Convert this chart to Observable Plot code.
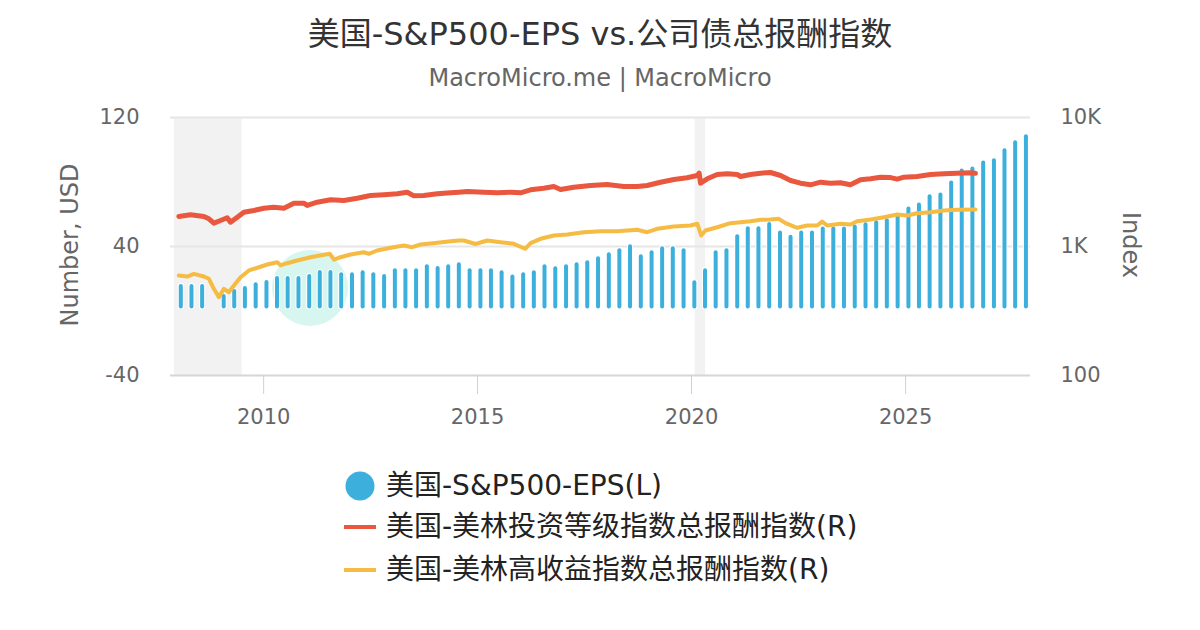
<!DOCTYPE html>
<html>
<head>
<meta charset="utf-8">
<script src="https://cdn.jsdelivr.net/npm/d3@7"></script>
<script src="https://cdn.jsdelivr.net/npm/@observablehq/plot@0.6"></script>
<style>
  html, body { margin: 0; padding: 0; background: #fff; }
  body { font-family: "DejaVu Sans", "Noto Sans CJK SC", sans-serif; }
  #wrap { position: relative; width: 1200px; height: 630px; overflow: hidden; background: #fff; }
  .abs { position: absolute; white-space: nowrap; }
  #title { top: 15px; left: 0; width: 1200px; text-align: center; font-size: 32px; line-height: 38px; color: #333; }
  #subtitle { top: 64px; left: 0; width: 1200px; text-align: center; font-size: 24px; line-height: 28px; color: #666; }
  #chart { position: absolute; left: 0; top: 100px; z-index: 2; }
  #wm { position: absolute; left: 272px; top: 250px; width: 76px; height: 76px; border-radius: 50%; background: #d6f6ef; z-index: 1; }
  .ytitle { font-size: 24px; color: #666; transform: translate(-50%, -50%) rotate(-90deg); }
  .ytitle.r { transform: translate(-50%, -50%) rotate(90deg); }
  .leg { font-size: 28px; color: #222; line-height: 32px; transform: translateY(-50%); }
  .sw-dot { width: 29px; height: 29px; border-radius: 50%; transform: translate(-50%, -50%); }
  .sw-line { width: 32px; height: 4px; transform: translateY(-50%); }
</style>
</head>
<body>
<div id="wrap">
  <div id="title" class="abs">美国-S&amp;P500-EPS vs.公司债总报酬指数</div>
  <div id="subtitle" class="abs">MacroMicro.me | MacroMicro</div>
  <div id="wm"></div>
  <div id="chart"></div>
  <div class="abs ytitle" style="left:70px;top:245px;">Number, USD</div>
  <div class="abs ytitle r" style="left:1131px;top:245px;">Index</div>
  <div id="legend"></div>
</div>
<script>
// ---------- DATA ----------
const epsQuarters = [
  "2008Q1","2008Q2","2008Q3","2008Q4","2009Q1","2009Q2","2009Q3","2009Q4",
  "2010Q1","2010Q2","2010Q3","2010Q4","2011Q1","2011Q2","2011Q3","2011Q4",
  "2012Q1","2012Q2","2012Q3","2012Q4","2013Q1","2013Q2","2013Q3","2013Q4",
  "2014Q1","2014Q2","2014Q3","2014Q4","2015Q1","2015Q2","2015Q3","2015Q4",
  "2016Q1","2016Q2","2016Q3","2016Q4","2017Q1","2017Q2","2017Q3","2017Q4",
  "2018Q1","2018Q2","2018Q3","2018Q4","2019Q1","2019Q2","2019Q3","2019Q4",
  "2020Q1","2020Q2","2020Q3","2020Q4","2021Q1","2021Q2","2021Q3","2021Q4",
  "2022Q1","2022Q2","2022Q3","2022Q4","2023Q1","2023Q2","2023Q3","2023Q4",
  "2024Q1","2024Q2","2024Q3","2024Q4","2025Q1","2025Q2","2025Q3","2025Q4",
  "2026Q1","2026Q2","2026Q3","2026Q4","2027Q1","2027Q2","2027Q3","2027Q4"
];
const epsValues = [
  16.4, 16.4, 16.4, -0.1, 10.2, 13.3, 15.2, 17.5,
  18.9, 21.4, 21.4, 21.4, 22.6, 25.1, 25.1, 23.7,
  23.7, 24.9, 23.7, 22.6, 26.2, 26.2, 26.2, 28.7,
  27.6, 28.7, 29.9, 26.2, 26.2, 26.2, 24.9, 22.4,
  23.7, 24.9, 28.7, 27.4, 28.7, 29.9, 31.1, 33.6,
  36.1, 38.6, 41.1, 34.9, 37.3, 39.8, 39.8, 38.6,
  18.7, 26.2, 37.3, 38.6, 47.3, 52.2, 52.2, 54.9,
  49.6, 47.0, 49.6, 49.6, 52.1, 52.1, 52.1, 53.3,
  54.7, 56.0, 57.2, 60.3, 64.5, 67.0, 72.1, 73.2,
  80.6, 88.0, 89.3, 93.0, 94.4, 100.6, 105.6, 109.3
];

const igDates = [
  "2008-01-08","2008-04-17","2008-08-09","2008-09-21","2008-11-02","2008-12-29",
  "2009-02-24","2009-03-24","2009-05-21","2009-07-16","2009-10-09","2010-01-03",
  "2010-03-29","2010-06-23","2010-09-16","2010-12-10","2011-01-08","2011-04-03",
  "2011-07-26","2011-11-16","2012-03-10","2012-07-01","2012-10-23","2013-02-15",
  "2013-05-11","2013-07-06","2013-09-29","2014-01-22","2014-05-16","2014-07-25",
  "2014-10-04","2015-02-24","2015-06-18","2015-10-09","2016-01-02","2016-03-28",
  "2016-07-19","2016-10-13","2016-12-09","2017-04-01","2017-08-22","2018-01-11",
  "2018-06-02","2018-09-24","2018-12-18","2019-04-11","2019-08-03","2019-11-24",
  "2020-02-19","2020-03-06","2020-03-18","2020-05-14","2020-08-07","2020-10-31",
  "2021-01-25","2021-02-22","2021-05-18","2021-08-12","2021-11-05","2022-01-30",
  "2022-04-25","2022-07-19","2022-10-12","2023-01-06","2023-04-01","2023-06-25",
  "2023-09-18","2023-12-13","2024-03-08","2024-06-01","2024-08-26","2024-10-22",
  "2024-12-17","2025-04-10","2025-08-02","2025-11-23","2026-03-17","2026-07-08",
  "2026-08-20"
];
const igValues = [
  1709, 1761, 1709, 1639, 1516, 1591,
  1669, 1543, 1687, 1845, 1902, 1981,
  2017, 1981, 2166, 2166, 2080, 2205,
  2301, 2273, 2368, 2485, 2517, 2562,
  2636, 2470, 2485, 2562, 2608, 2636,
  2669, 2636, 2608, 2636, 2608, 2751,
  2831, 2918, 2766, 2882, 2971, 3025,
  2918, 2918, 2971, 3151, 3306, 3409,
  3551, 3700, 3100, 3348, 3615, 3661,
  3615, 3488, 3615, 3700, 3747, 3551,
  3248, 3096, 3008, 3151, 3096, 3118,
  3008, 3289, 3348, 3445, 3420, 3330,
  3445, 3488, 3615, 3661, 3700, 3727,
  3700
];

const hyDates = [
  "2008-01-08","2008-03-20","2008-05-16","2008-08-09","2008-09-21","2008-11-02",
  "2008-12-15","2009-01-27","2009-03-10","2009-04-22","2009-06-18","2009-08-28",
  "2009-11-08","2010-02-01","2010-04-27","2010-05-26","2010-07-21","2010-10-15",
  "2011-02-06","2011-05-30","2011-07-20","2011-08-25","2011-10-19","2012-01-13",
  "2012-05-05","2012-06-17","2012-08-27","2012-12-19","2013-04-12","2013-06-20",
  "2013-09-02","2014-01-22","2014-05-16","2014-07-25","2014-09-06","2014-12-14",
  "2015-03-25","2015-07-15","2015-11-06","2016-02-11","2016-03-28","2016-06-21",
  "2016-10-13","2017-02-05","2017-06-26","2017-11-15","2018-04-07","2018-09-24",
  "2018-12-18","2019-03-14","2019-08-03","2019-12-22","2020-02-20","2020-03-23",
  "2020-04-29","2020-08-07","2020-11-28","2021-02-22","2021-05-18","2021-08-12",
  "2021-11-05","2022-01-15","2022-03-13","2022-06-21","2022-09-14","2022-12-08",
  "2023-01-20","2023-03-04","2023-06-25","2023-09-18","2023-11-14","2024-03-08",
  "2024-06-29","2024-10-22","2025-01-15","2025-04-10","2025-08-02","2025-11-23",
  "2026-03-17","2026-08-20"
];
const hyValues = [
  596, 585, 614, 585, 562, 470,
  405, 470, 442, 499, 578, 652,
  684, 725, 755, 715, 742, 779,
  826, 862, 878, 790, 826, 867,
  903, 878, 931, 977, 1018, 988,
  1036, 1068, 1099, 1113, 1113, 1045,
  1113, 1080, 1049, 960, 1061, 1147,
  1217, 1239, 1291, 1314, 1314, 1347,
  1291, 1371, 1429, 1455, 1500, 1217,
  1330, 1411, 1516, 1543, 1571, 1611,
  1620, 1639, 1516, 1396, 1455, 1455,
  1560, 1455, 1500, 1481, 1571, 1620,
  1687, 1771, 1739, 1812, 1845, 1902,
  1925, 1936
];

const recessionStarts = ["2007-12-01", "2020-02-01"];
const recessionEnds   = ["2009-07-01", "2020-04-30"];

const xDomain = ["2007-10-29", "2027-12-03"];
const xTickYears = [2010, 2015, 2020, 2025];
const leftTicks = [-40, 40, 120];
const rightTicks = [100, 1000, 10000];
const rightTickLabels = ["100", "1K", "10K"];

const seriesNames = ["美国-S&P500-EPS(L)", "美国-美林投资等级指数总报酬指数(R)", "美国-美林高收益指数总报酬指数(R)"];
const seriesColors = ["#3CAFDC", "#E9573F", "#F6BB42"];

// ---------- BUILD ----------
const parse = d3.utcParse("%Y-%m-%d");
// right axis (log 100..10K) mapped onto the left axis range (-40..120)
const toLeft = v => -40 + (Math.log10(v) - 2) * 80;

const eps = epsQuarters.map((q, i) => {
  const yr = +q.slice(0, 4), qn = +q.slice(5);
  return { date: new Date(Date.UTC(yr, (qn - 1) * 3, 25)), value: epsValues[i] };
}).filter(d => d.value > 0);
const ig = igDates.map((d, i) => ({ date: parse(d), value: igValues[i] }));
const hy = hyDates.map((d, i) => ({ date: parse(d), value: hyValues[i] }));
const recessions = recessionStarts.map((s, i) => ({ start: parse(s), end: parse(recessionEnds[i]) }));
const xTicks = xTickYears.map(y => new Date(Date.UTC(y, 0, 1)));
const rightTickPos = rightTicks.map(toLeft);

const chart = Plot.plot({
  width: 1200,
  height: 320,
  marginLeft: 170,
  marginRight: 170,
  marginTop: 17,
  marginBottom: 45,
  style: { background: "transparent", overflow: "visible", fontFamily: '"DejaVu Sans","Noto Sans CJK SC",sans-serif' },
  x: { type: "utc", domain: xDomain.map(parse), label: null },
  y: { domain: [-40, 120], label: null },
  marks: [
    Plot.rect(recessions, { x1: "start", x2: "end", fill: "#f2f2f2" }),
    Plot.ruleY(leftTicks.slice(1), { stroke: "#e6e6e6", strokeWidth: 2 }),
    Plot.ruleY(leftTicks.slice(0, 1), { stroke: "#d6d6d6", strokeWidth: 2 }),
    Plot.axisX(xTicks, { tickSize: 19, tickFormat: () => "", color: "#d0d0d0", label: null }),
    Plot.axisX(xTicks, { tickSize: 0, tickPadding: 34, tickFormat: d3.utcFormat("%Y"), color: "#666", fontSize: 21, label: null }),
    Plot.axisY(leftTicks, { anchor: "left", tickSize: 0, tickPadding: 31, color: "#666", fontSize: 21, label: null, tickFormat: d => String(d) }),
    Plot.axisY(rightTickPos, { anchor: "right", tickSize: 0, tickPadding: 30, color: "#666", fontSize: 21, label: null,
      tickFormat: d => rightTickLabels[rightTickPos.findIndex(p => Math.abs(p - d) < 1e-9)] }),
    Plot.ruleX(eps, { x: "date", y1: "value", y2: 0, stroke: "white", strokeWidth: 6, strokeLinecap: "round", insetTop: 2, insetBottom: 4 }),
    Plot.ruleX(eps, { x: "date", y1: "value", y2: 0, stroke: seriesColors[0], strokeWidth: 4, strokeLinecap: "round", insetTop: 2, insetBottom: 4 }),
    Plot.line(hy, { x: "date", y: d => toLeft(d.value), stroke: seriesColors[2], strokeWidth: 4, strokeLinejoin: "round" }),
    Plot.line(ig, { x: "date", y: d => toLeft(d.value), stroke: seriesColors[1], strokeWidth: 5, strokeLinejoin: "round" })
  ]
});
document.getElementById("chart").appendChild(chart);

// legend
const legend = document.getElementById("legend");
const rowsY = [486, 527, 570];
seriesNames.forEach((name, i) => {
  const sw = document.createElement("div");
  sw.className = "abs " + (i === 0 ? "sw-dot" : "sw-line");
  sw.style.background = seriesColors[i];
  sw.style.top = rowsY[i] + "px";
  sw.style.left = (i === 0 ? 360 : 344) + "px";
  legend.appendChild(sw);
  const t = document.createElement("div");
  t.className = "abs leg";
  t.style.left = "386px";
  t.style.top = rowsY[i] + "px";
  t.textContent = name;
  legend.appendChild(t);
});
</script>
</body>
</html>
